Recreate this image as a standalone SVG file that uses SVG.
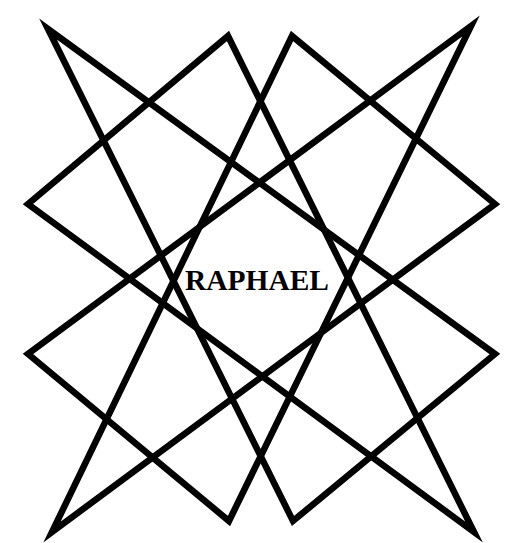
<svg xmlns="http://www.w3.org/2000/svg" width="522" height="543" viewBox="0 0 522 543">
<style>
.tri{fill:none;stroke:#000;stroke-width:6.5;stroke-linejoin:miter;stroke-miterlimit:20}
.lbl{font-family:"Liberation Serif","Times New Roman",serif;font-weight:bold;font-size:30px;fill:#000}
</style>
<rect width="522" height="543" fill="#fff"/>
<g id="triangles">
<polygon id="tri-a" class="tri" points="48,29 293,521 495,354"/>
<polygon id="tri-d" class="tri" points="471,26 229,521 28,354"/>
<polygon id="tri-b" class="tri" points="228,36 474,532 28,204"/>
<polygon id="tri-c" class="tri" points="292,36 52,532 495,204"/>
</g>
<g id="label">
<text class="lbl" x="185" y="290" textLength="144" lengthAdjust="spacingAndGlyphs">RAPHAEL</text>
</g>
</svg>
